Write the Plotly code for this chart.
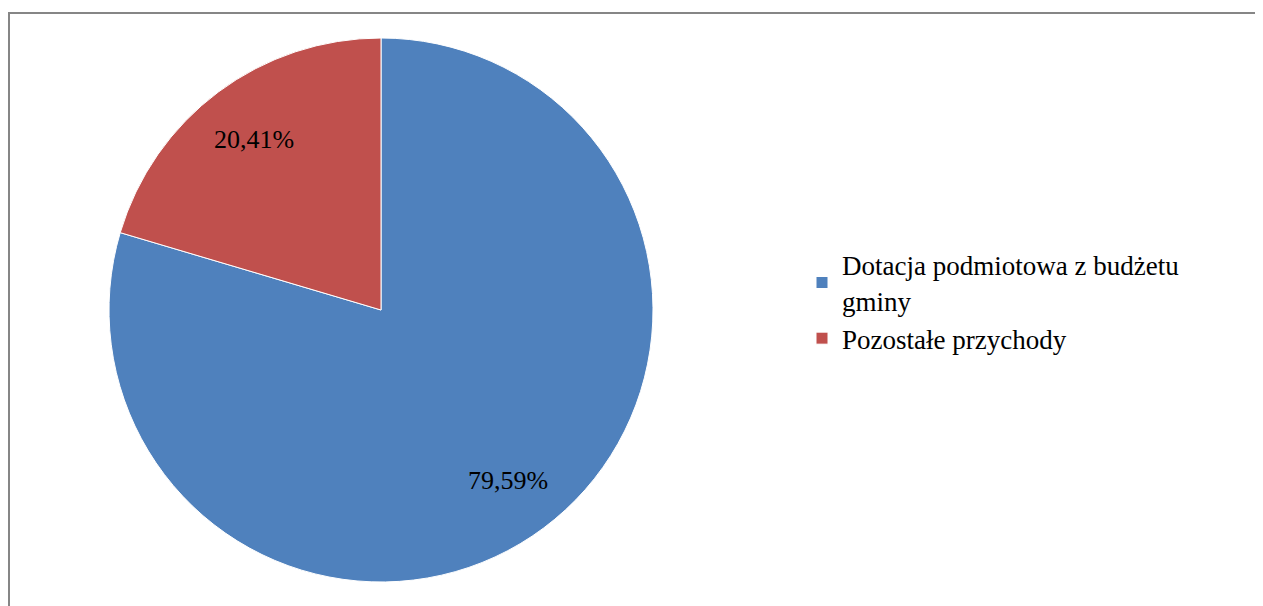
import math
import plotly.graph_objects as go

W, H = 1263, 606

labels = ["Dotacja podmiotowa z budżetu<br>gminy", "Pozostałe przychody"]
values = [79.59, 20.41]
colors = ["#4F81BD", "#C0504D"]

# pie placement in pixels (page has an 8px body margin)
cx, cy, r = 373, 302, 272

fig = go.Figure(
    go.Pie(
        labels=labels,
        values=values,
        sort=False,
        direction="clockwise",
        rotation=0,
        marker=dict(colors=colors, line=dict(color="white", width=1)),
        textinfo="none",
        domain=dict(x=[(cx - r) / W, (cx + r) / W], y=[1 - (cy + r) / H, 1 - (cy - r) / H]),
    )
)

# data labels placed along each slice's mid-angle, like the original
total = sum(values)
start = 0.0
for v in values:
    mid = (start + v / 2) / total * 2 * math.pi
    start += v
    px = cx + 0.78 * r * math.sin(mid)
    py = cy - 0.78 * r * math.cos(mid)
    fig.add_annotation(
        x=px / W, y=1 - py / H, xref="paper", yref="paper",
        xanchor="center", yanchor="middle",
        text=f"{v:.2f}%".replace(".", ","), showarrow=False,
        font=dict(family="Liberation Serif", size=26, color="black"),
    )

# chart frame (grey border, cut off on right and bottom)
fig.add_shape(
    type="rect", xref="paper", yref="paper",
    x0=1 / W, x1=1.01, y0=-0.05, y1=1 - 5 / H,
    line=dict(color="#868686", width=2),
)

fig.update_layout(
    width=W,
    height=H,
    margin=dict(l=0, r=0, t=0, b=0),
    paper_bgcolor="white",
    font=dict(family="Liberation Serif", size=27, color="black"),
    legend=dict(
        x=794 / W, y=0.515, xanchor="left", yanchor="middle",
        font=dict(family="Liberation Serif", size=27),
        tracegroupgap=8,
    ),
)

fig.write_html("out.html")
